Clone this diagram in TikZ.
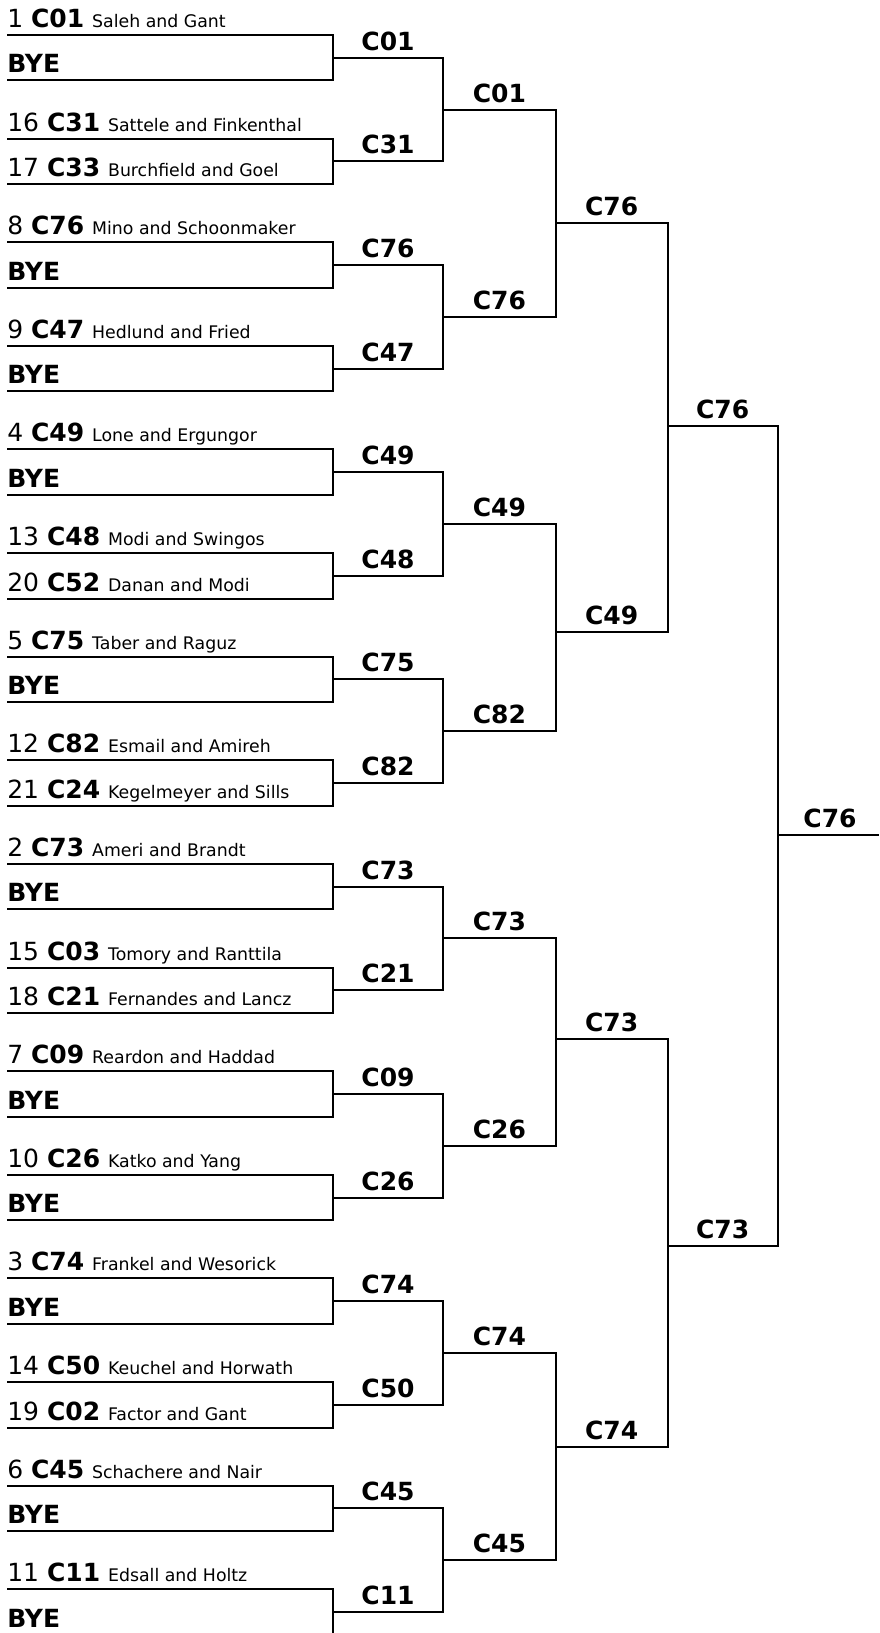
\documentclass[tikz,border=0pt]{standalone}
\usepackage{fontspec}
\setmainfont{DejaVu Sans}
\newcommand\namefont{\fontsize{13}{15}\selectfont}
\newcommand\entrant[3]{#1 \textbf{#2} {\namefont #3}}
\newcommand\byeentry{\textbf{BYE}}
\tikzset{
  slot/.style={anchor=base west, inner sep=0pt, font=\fontsize{18.75}{22}\selectfont},
  winner/.style={anchor=base, inner sep=0pt, font=\fontsize{18.75}{22}\selectfont\bfseries},
  bracket/.style={line width=1.5pt}
}
\begin{document}
\begin{tikzpicture}[x=0.75pt,y=-0.75pt]
  \useasboundingbox (0,0) rectangle (879,1633);

  % Erste Runde: Paarungen
  \foreach \k/\oben/\unten/\sieger in {
      0/{\entrant{1}{C01}{Saleh and Gant}}/{\byeentry}/C01,
      1/{\entrant{16}{C31}{Sattele and Finkenthal}}/{\entrant{17}{C33}{Burchfield and Goel}}/C31,
      2/{\entrant{8}{C76}{Mino and Schoonmaker}}/{\byeentry}/C76,
      3/{\entrant{9}{C47}{Hedlund and Fried}}/{\byeentry}/C47,
      4/{\entrant{4}{C49}{Lone and Ergungor}}/{\byeentry}/C49,
      5/{\entrant{13}{C48}{Modi and Swingos}}/{\entrant{20}{C52}{Danan and Modi}}/C48,
      6/{\entrant{5}{C75}{Taber and Raguz}}/{\byeentry}/C75,
      7/{\entrant{12}{C82}{Esmail and Amireh}}/{\entrant{21}{C24}{Kegelmeyer and Sills}}/C82,
      8/{\entrant{2}{C73}{Ameri and Brandt}}/{\byeentry}/C73,
      9/{\entrant{15}{C03}{Tomory and Ranttila}}/{\entrant{18}{C21}{Fernandes and Lancz}}/C21,
      10/{\entrant{7}{C09}{Reardon and Haddad}}/{\byeentry}/C09,
      11/{\entrant{10}{C26}{Katko and Yang}}/{\byeentry}/C26,
      12/{\entrant{3}{C74}{Frankel and Wesorick}}/{\byeentry}/C74,
      13/{\entrant{14}{C50}{Keuchel and Horwath}}/{\entrant{19}{C02}{Factor and Gant}}/C50,
      14/{\entrant{6}{C45}{Schachere and Nair}}/{\byeentry}/C45,
      15/{\entrant{11}{C11}{Edsall and Holtz}}/{\byeentry}/C11}{
    \pgfmathsetmacro{\ya}{35+103.62*\k}
    \pgfmathsetmacro{\yb}{\ya+45.5}
    \pgfmathsetmacro{\ym}{\ya+22.7}
    \coordinate (sa-\k) at (7,\ya);
    \coordinate (sb-\k) at (7,\yb);
    \coordinate (r1-\k) at (333,\ym);
    \coordinate (e1-\k) at (443,\ym);
    \node[slot] (ta-\k) at (7,\ya-7.5) {\oben};
    \node[slot] (tb-\k) at (7,\yb-7.5) {\unten};
    \draw[bracket] (sa-\k) -| (r1-\k) |- (sb-\k);
    \node[winner] (w1-\k) at (388,\ym-7.5) {\sieger};
  }

  % Zweite Runde
  \foreach \j/\sieger in {0/C01,1/C76,2/C49,3/C82,4/C73,5/C26,6/C74,7/C45}{
    \pgfmathtruncatemacro{\a}{2*\j}
    \pgfmathtruncatemacro{\b}{2*\j+1}
    \pgfmathsetmacro{\y}{57.7+103.62*(2*\j+0.5)}
    \coordinate (r2-\j) at (443,\y);
    \coordinate (e2-\j) at (555.7,\y);
    \draw[bracket] (r1-\a) -- (e1-\a) -- (e1-\b) -- (r1-\b);
    \node[winner] (w2-\j) at (499.35,\y-7.5) {\sieger};
  }

  % Viertelfinale
  \foreach \j/\sieger/\y in {0/C76/223.3,1/C49/631.7,2/C73/1039.3,3/C74/1447.3}{
    \pgfmathtruncatemacro{\a}{2*\j}
    \pgfmathtruncatemacro{\b}{2*\j+1}
    \coordinate (r3-\j) at (555.7,\y);
    \coordinate (e3-\j) at (667.7,\y);
    \draw[bracket] (r2-\a) -- (e2-\a) -- (e2-\b) -- (r2-\b);
    \node[winner] (w3-\j) at (611.7,\y-7.5) {\sieger};
  }

  % Halbfinale
  \foreach \j/\sieger/\y in {0/C76/425.7,1/C73/1245.7}{
    \pgfmathtruncatemacro{\a}{2*\j}
    \pgfmathtruncatemacro{\b}{2*\j+1}
    \coordinate (r4-\j) at (667.7,\y);
    \coordinate (e4-\j) at (777.7,\y);
    \draw[bracket] (r3-\a) -- (e3-\a) -- (e3-\b) -- (r3-\b);
    \node[winner] (w4-\j) at (722.7,\y-7.5) {\sieger};
  }

  % Finale
  \coordinate (r5-0) at (777.7,835);
  \coordinate (e5-0) at (879,835);
  \draw[bracket] (r4-0) -- (e4-0) -- (e4-1) -- (r4-1);
  \draw[bracket] (r5-0) -- (e5-0);
  \node[winner] (w5-0) at (830,827.5) {C76};
\end{tikzpicture}
\end{document}
